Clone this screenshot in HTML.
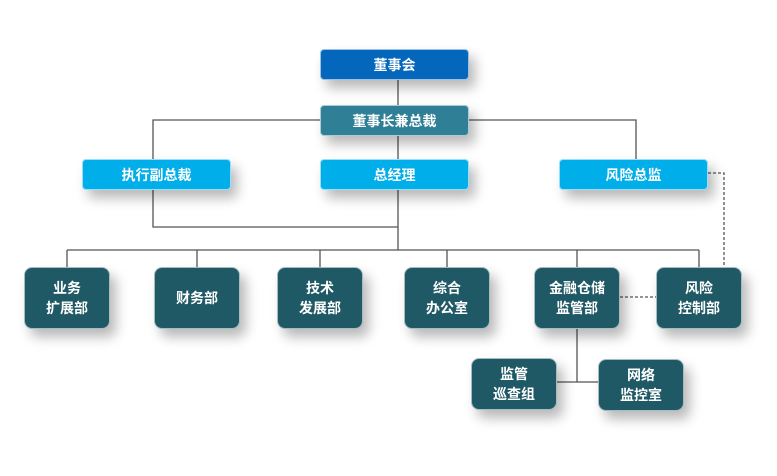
<!DOCTYPE html>
<html><head><meta charset="utf-8"><style>
html,body{margin:0;padding:0;background:#fff;width:777px;height:476px;overflow:hidden;font-family:"Liberation Sans","Noto Sans CJK SC",sans-serif}
.b{position:absolute;color:#fff;font-weight:bold;font-size:14px;display:flex;align-items:center;justify-content:center;text-align:center;line-height:20px;box-sizing:border-box;box-shadow:6px 8px 12px rgba(0,0,0,0.28);border:1px solid rgba(255,255,255,0.6)}
.t{border-radius:4px;height:31px;width:149px}
.d{border-radius:8px;background:#205966;width:86px;height:62px}
.s{border-radius:8px;background:#205966;width:86px;height:52px}
</style></head><body>
<svg width="777" height="476" style="position:absolute;left:0;top:0">
<g stroke="#555" stroke-width="1.3" fill="none">
<path d="M398 80V106M320 120H153V160M469 120H636V160M398 136V160"/>
<path d="M153 190V227H398M398 190V250M67 250H699M67 250V267M197 250V267M320 250V267M447 250V267M577 250V267M699 250V267"/>
<path d="M577 328V382M556 382H598"/>
</g>
<g stroke="#555" stroke-width="1.3" fill="none" stroke-dasharray="3,2">
<path d="M708 173H724V267M620 297H656"/>
</g>
</svg>
<div class="b t" style="left:320px;top:49px;background:#0567bb">董事会</div>
<div class="b t" style="left:320px;top:105px;background:#2f7f96">董事长兼总裁</div>
<div class="b t" style="left:82px;top:159px;background:#00aeea">执行副总裁</div>
<div class="b t" style="left:320px;top:159px;background:#00aeea">总经理</div>
<div class="b t" style="left:559px;top:159px;background:#00aeea">风险总监</div>
<div class="b d" style="left:24px;top:267px">业务<br>扩展部</div>
<div class="b d" style="left:154px;top:267px">财务部</div>
<div class="b d" style="left:277px;top:267px">技术<br>发展部</div>
<div class="b d" style="left:404px;top:267px">综合<br>办公室</div>
<div class="b d" style="left:534px;top:267px">金融仓储<br>监管部</div>
<div class="b d" style="left:656px;top:267px">风险<br>控制部</div>
<div class="b s" style="left:471px;top:358px">监管<br>巡查组</div>
<div class="b s" style="left:598px;top:359px">网络<br>监控室</div>
</body></html>
